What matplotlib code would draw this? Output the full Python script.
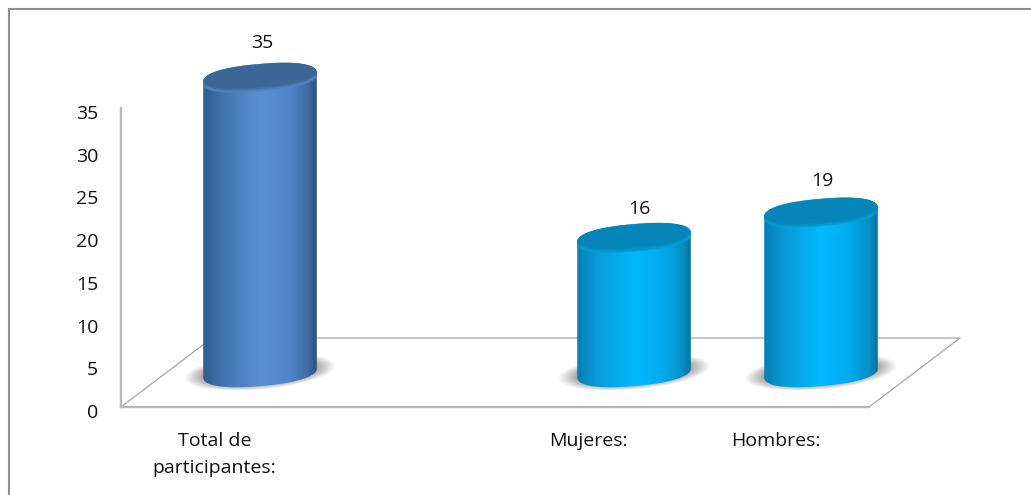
import matplotlib
matplotlib.use("Agg")
import matplotlib.pyplot as plt
import numpy as np
from matplotlib.lines import Line2D
from matplotlib.patches import Polygon
from matplotlib.transforms import ScaledTranslation

# datos
categories = ["Total de\nparticipantes:", "", "Mujeres:", "Hombres:"]
bar_positions = [0, 2, 3]
bar_values = [35, 16, 19]
y_ticks = [0, 5, 10, 15, 20, 25, 30, 35]

# estilo / geometria, en pixeles
FIG_W, FIG_H = 1031, 495
DPI = 100
X0_PX, CAT_PX = 121, 187
Y0_PX, VAL_PX = 407, 8.54
DEPTH_X, DEPTH_Y = 91, 69
HEIGHT_SCALE = 0.987
ELL_A, ELL_B, TILT = 57, 13.5, np.radians(5)
ROUNDNESS = 0.85
LABEL_OFFSETS = [(2, 34), (5, 29), (1, 31)]
FONT_SIZE = 14

DARK_BLUE = {
    "body": ["#2f5c90", "#4175ae", "#5a8fd6", "#5186c9", "#3f6da3", "#2c4e76"],
    "face": "#3c6696",
    "rim": "#5f93cf",
}
LIGHT_BLUE = {
    "body": ["#067fb5", "#0a9bd8", "#00baff", "#00abee", "#0890c6", "#04729f"],
    "face": "#0585b8",
    "rim": "#05a5e0",
}
bar_styles = [DARK_BLUE, LIGHT_BLUE, LIGHT_BLUE]
STOPS = [0, 0.18, 0.5, 0.75, 0.92, 1]

plt.rcParams["font.family"] = ["Open Sans", "DejaVu Sans"]
plt.rcParams["font.size"] = FONT_SIZE


def hex_rgb(c):
    return np.array(matplotlib.colors.to_rgb(c))


def ellipse_pts(cx, cy, t, a=ELL_A, b=ELL_B):
    """Elipse inclinada; medidas en pixeles, resultado en datos."""
    c = np.sign(np.cos(t)) * np.abs(np.cos(t)) ** ROUNDNESS
    s = np.sign(np.sin(t)) * np.abs(np.sin(t)) ** ROUNDNESS
    px = a * c * np.cos(TILT) - b * s * np.sin(TILT)
    py = a * c * np.sin(TILT) + b * s * np.cos(TILT)
    return np.column_stack([cx + px / CAT_PX, cy + py / VAL_PX])


def draw_shadow(ax, cx, cy):
    a, b = 77, 18
    xs = np.arange(-a - 8, a + 9)
    ys = np.arange(-b - 14, b + 15)
    gx, gy = np.meshgrid(xs, ys)
    u = gx * np.cos(TILT) + gy * np.sin(TILT)
    v = -gx * np.sin(TILT) + gy * np.cos(TILT)
    r = np.sqrt((u / a) ** 2 + (v / b) ** 2)
    alpha = np.clip((1 - r) / 0.3, 0, 1) * 0.7
    img = np.zeros(gx.shape + (4,))
    img[..., :3] = 0.42
    img[..., 3] = alpha
    extent = (
        cx + xs[0] / CAT_PX, cx + xs[-1] / CAT_PX,
        cy + ys[0] / VAL_PX, cy + ys[-1] / VAL_PX,
    )
    ax.imshow(img, extent=extent, origin="lower", aspect="auto",
              interpolation="bilinear", zorder=2)


def draw_cylinder(ax, x, value, style):
    cx = x + (DEPTH_X / 2) / CAT_PX
    base = (DEPTH_Y / 2) / VAL_PX
    top = base + value * HEIGHT_SCALE

    draw_shadow(ax, cx, base)

    # cuerpo con degradado horizontal
    lower = ellipse_pts(cx, base, np.linspace(np.pi, 2 * np.pi, 80))
    upper = ellipse_pts(cx, top, np.linspace(0, np.pi, 80))
    body = Polygon(np.vstack([lower, upper]), closed=True,
                   facecolor="none", edgecolor="none", zorder=3)
    ax.add_patch(body)

    cols = np.array([hex_rgb(c) for c in style["body"]])
    pos = np.linspace(0, 1, 256)
    grad = np.stack([np.interp(pos, STOPS, cols[:, i]) for i in range(3)], axis=-1)
    half = ELL_A / CAT_PX
    im = ax.imshow(grad[None, :, :], extent=(cx - half, cx + half, base - 20 / VAL_PX, top + 20 / VAL_PX),
                   aspect="auto", interpolation="bilinear", zorder=3)
    im.set_clip_path(body)

    # tapa
    cap = ellipse_pts(cx, top, np.linspace(0, 2 * np.pi, 160))
    ax.add_patch(Polygon(cap, closed=True, facecolor=style["face"],
                         edgecolor="none", zorder=4))
    # borde inferior de la tapa, suave
    for width, off, alpha in [(3.0, 1.5, 0.25), (1.6, 0.8, 0.45)]:
        arc = ellipse_pts(cx, top, np.linspace(np.pi * 1.08, np.pi * 1.92, 80), b=ELL_B - off)
        ax.plot(arc[:, 0], arc[:, 1], color=style["rim"], lw=width, alpha=alpha,
                solid_capstyle="round", zorder=5)
    return cx, top


fig = plt.figure(figsize=(FIG_W / DPI, FIG_H / DPI), dpi=DPI)
ax = fig.add_axes([0, 0, 1, 1])
ax.set_xlim(-0.5 - X0_PX / CAT_PX, -0.5 + (FIG_W - X0_PX) / CAT_PX)
ax.set_ylim(-(FIG_H - Y0_PX) / VAL_PX, Y0_PX / VAL_PX)
ax.set_autoscale_on(False)
ax.patch.set_visible(False)

# marco exterior: solo arriba y a la izquierda
frame_color = "#8f8f8f"
fig.add_artist(Line2D([8.5 / FIG_W] * 2, [0, 1 - 8.5 / FIG_H], color=frame_color, lw=1.5))
fig.add_artist(Line2D([8.5 / FIG_W, 1], [1 - 8.5 / FIG_H] * 2, color=frame_color, lw=1.5))

# ejes
for side in ["top", "right"]:
    ax.spines[side].set_visible(False)
ax.spines["left"].set_position(("data", -0.5))
ax.spines["left"].set_bounds(0, 35)
ax.spines["bottom"].set_position(("data", 0))
ax.spines["bottom"].set_bounds(-0.5, 3.5)
for side in ["left", "bottom"]:
    ax.spines[side].set_color("#b8b8b8")
    ax.spines[side].set_linewidth(1.7)

ax.set_yticks(y_ticks)
ax.set_xticks(range(len(categories)))
ax.set_xticklabels(categories, linespacing=1.62)
ax.tick_params(axis="both", length=0, colors="#111111")
ax.tick_params(axis="y", pad=16.5)
ax.tick_params(axis="x", pad=18)
shift = ScaledTranslation(0, -4 / DPI, fig.dpi_scale_trans)
for lab in ax.get_yticklabels():
    lab.set_transform(lab.get_transform() + shift)

# piso
dx, dy = DEPTH_X / CAT_PX, DEPTH_Y / VAL_PX
floor_x = [-0.5, -0.5 + dx, 3.5 + dx, 3.5]
floor_y = [0, dy, dy, 0]
ax.plot(floor_x, floor_y, color="#a6a6a6", lw=0.9, zorder=1)

for x, value, style, off in zip(bar_positions, bar_values, bar_styles, LABEL_OFFSETS):
    cx, top = draw_cylinder(ax, x, value, style)
    ax.annotate(str(value), (cx, top), xytext=off, textcoords="offset pixels",
                ha="center", va="center", color="#111111", zorder=6)

fig.savefig("out.png", dpi=DPI, facecolor="white")
